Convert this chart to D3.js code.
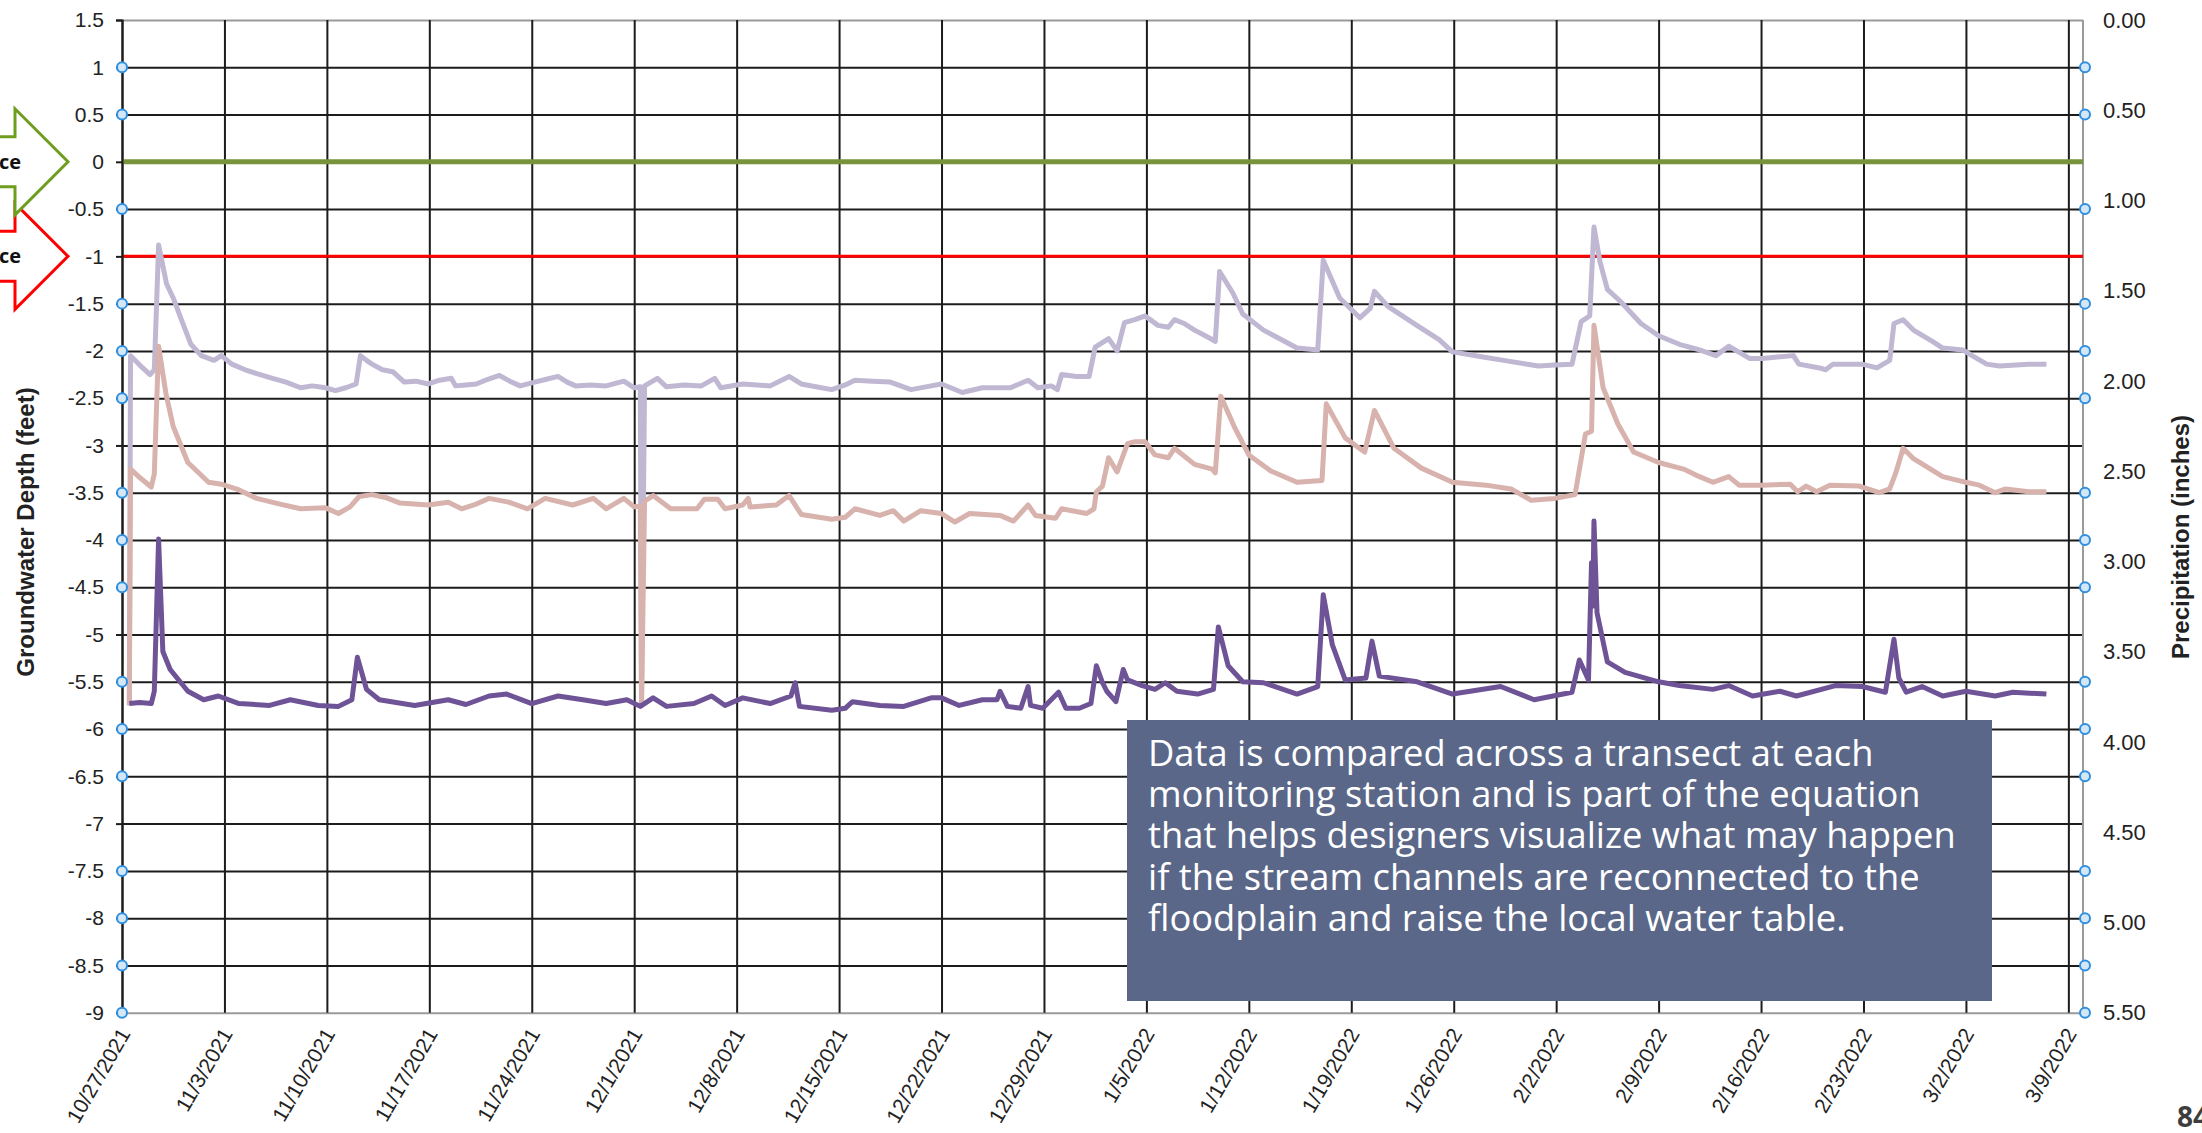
<!DOCTYPE html>
<html>
<head>
<meta charset="utf-8">
<script src="https://cdn.jsdelivr.net/npm/d3@7"></script>
<style>
  body { margin: 0; background: #fff; }
  svg { display: block; }
</style>
</head>
<body>
<svg id="chart" width="2202" height="1133"></svg>
<script>
// readings: [days after 10/27/2021, depth in feet]
const wellShallow = [[0.5,-5.73],[0.6,-2.05],[1.2,-2.15],[1.9,-2.25],[2.2,-2.2],[2.5,-0.88],[3.05,-1.29],[3.5,-1.44],[4.1,-1.68],[4.7,-1.93],[5.4,-2.05],[6.3,-2.1],[6.8,-2.05],[7.5,-2.14],[8.4,-2.2],[9.2,-2.24],[10.3,-2.29],[11.2,-2.33],[12.2,-2.39],[13.0,-2.37],[13.9,-2.39],[14.6,-2.42],[15.3,-2.39],[16,-2.35],[16.3,-2.05],[16.7,-2.1],[17.1,-2.14],[17.8,-2.2],[18.5,-2.22],[19.3,-2.33],[20.1,-2.32],[20.9,-2.35],[21.7,-2.31],[22.5,-2.29],[22.8,-2.37],[23.5,-2.36],[24.2,-2.35],[25.0,-2.3],[25.8,-2.26],[26.5,-2.32],[27.2,-2.37],[28.2,-2.33],[29.0,-2.3],[29.8,-2.27],[30.4,-2.33],[31,-2.37],[32,-2.36],[33.1,-2.37],[34.3,-2.32],[35,-2.39],[35.4,-2.38],[35.5,-5.73],[35.7,-2.37],[36.6,-2.29],[37.2,-2.38],[38.4,-2.36],[39.6,-2.37],[40.5,-2.29],[40.9,-2.39],[42.4,-2.35],[44.3,-2.37],[45.6,-2.27],[46.4,-2.35],[47.4,-2.38],[48.5,-2.41],[49.4,-2.36],[50.1,-2.31],[51.3,-2.32],[52.5,-2.33],[53.9,-2.41],[55.3,-2.37],[56,-2.35],[57.4,-2.44],[58.8,-2.39],[60.7,-2.39],[61.9,-2.31],[62.6,-2.39],[63.5,-2.37],[63.9,-2.41],[64.2,-2.25],[65.2,-2.27],[66.1,-2.27],[66.5,-1.96],[67.4,-1.87],[68,-2.0],[68.5,-1.7],[69.2,-1.67],[69.9,-1.63],[70.8,-1.73],[71.5,-1.75],[71.9,-1.67],[72.6,-1.71],[73.3,-1.78],[74.5,-1.88],[74.7,-1.9],[75,-1.16],[75.9,-1.39],[76.6,-1.61],[78,-1.78],[79.2,-1.88],[80.3,-1.97],[81.7,-1.99],[82.1,-1.04],[83.2,-1.44],[84.6,-1.65],[85.3,-1.55],[85.6,-1.37],[86.5,-1.53],[88.6,-1.74],[90,-1.88],[90.9,-2.01],[93.2,-2.07],[94.4,-2.1],[96.8,-2.16],[97.9,-2.15],[99.1,-2.14],[99.7,-1.69],[100.3,-1.63],[100.6,-0.69],[101,-1.06],[101.5,-1.35],[102.4,-1.48],[103.8,-1.71],[105,-1.84],[106.4,-1.93],[107.8,-1.99],[108.9,-2.05],[109.8,-1.95],[111.2,-2.08],[112.1,-2.08],[114.2,-2.05],[114.6,-2.14],[116,-2.18],[116.4,-2.2],[116.9,-2.14],[118.9,-2.14],[119.9,-2.18],[120.8,-2.1],[121.1,-1.71],[121.7,-1.67],[122.4,-1.78],[123.7,-1.9],[124.4,-1.97],[125.8,-1.99],[126.4,-2.05],[127.4,-2.14],[128.3,-2.16],[130.3,-2.14],[131.5,-2.14]];

const wellMiddle = [[0.5,-5.75],[0.6,-3.25],[1.3,-3.35],[2.0,-3.44],[2.2,-3.3],[2.5,-1.95],[3.0,-2.45],[3.5,-2.8],[4.5,-3.18],[5.9,-3.39],[6.8,-3.41],[8.0,-3.47],[9.2,-3.56],[10.8,-3.62],[12.2,-3.67],[13.9,-3.66],[14.8,-3.72],[15.6,-3.65],[16.2,-3.54],[17.1,-3.52],[18.0,-3.55],[19.0,-3.61],[20.9,-3.63],[22.3,-3.6],[23.2,-3.67],[24.2,-3.62],[25.1,-3.56],[26.4,-3.6],[27.7,-3.67],[28.9,-3.56],[30.8,-3.63],[32.2,-3.56],[33.1,-3.67],[34.3,-3.56],[35,-3.65],[35.4,-3.64],[35.5,-5.75],[35.7,-3.59],[36.3,-3.53],[37.5,-3.67],[39.3,-3.67],[39.8,-3.57],[40.7,-3.57],[41.2,-3.67],[42.4,-3.63],[42.8,-3.56],[42.9,-3.65],[44.7,-3.63],[45.6,-3.53],[46.4,-3.73],[48.5,-3.78],[49.4,-3.76],[50.1,-3.67],[51.8,-3.74],[52.7,-3.69],[53.4,-3.8],[54.6,-3.69],[56,-3.72],[56.9,-3.81],[57.9,-3.72],[60,-3.74],[60.9,-3.8],[61.9,-3.63],[62.4,-3.74],[63.8,-3.77],[64.2,-3.67],[65.9,-3.72],[66.4,-3.67],[66.6,-3.49],[67,-3.43],[67.4,-3.13],[68,-3.28],[68.7,-2.98],[69.2,-2.96],[69.9,-2.96],[70.6,-3.1],[71.5,-3.13],[71.9,-3.03],[73.3,-3.2],[74.5,-3.25],[74.7,-3.29],[75.1,-2.48],[76.0,-2.8],[77,-3.1],[78.5,-3.27],[80.3,-3.39],[82,-3.37],[82.3,-2.56],[83.6,-2.92],[84.3,-3.0],[84.9,-3.07],[85.6,-2.63],[86.9,-3.03],[88.8,-3.24],[90.9,-3.39],[93.2,-3.42],[94.9,-3.46],[96.3,-3.58],[97.9,-3.56],[99.3,-3.52],[100,-2.88],[100.4,-2.85],[100.6,-1.73],[101.2,-2.39],[102.2,-2.77],[103.3,-3.07],[105,-3.18],[106.7,-3.25],[107.8,-3.33],[108.7,-3.39],[109.8,-3.33],[110.5,-3.42],[112.1,-3.42],[114,-3.41],[114.5,-3.49],[115.1,-3.43],[115.8,-3.49],[116.7,-3.42],[118.7,-3.43],[120.1,-3.5],[120.8,-3.46],[121.2,-3.29],[121.7,-3.03],[122.4,-3.14],[124.4,-3.33],[126,-3.39],[126.9,-3.42],[128,-3.5],[128.7,-3.46],[130.3,-3.49],[131.5,-3.49]];

const wellDeep = [[0.5,-5.73],[1.2,-5.72],[2.0,-5.73],[2.2,-5.6],[2.5,-3.99],[2.8,-5.18],[3.3,-5.37],[4.5,-5.6],[5.6,-5.69],[6.6,-5.65],[8.0,-5.73],[10.1,-5.75],[11.5,-5.69],[13.4,-5.75],[14.8,-5.76],[15.7,-5.69],[16.1,-5.24],[16.7,-5.58],[17.6,-5.69],[20,-5.75],[22.3,-5.69],[23.5,-5.74],[25.1,-5.65],[26.3,-5.63],[28,-5.73],[29.8,-5.65],[31.5,-5.69],[33.1,-5.73],[34.5,-5.69],[35.4,-5.76],[36.3,-5.67],[37.2,-5.76],[39.1,-5.73],[40.3,-5.65],[41.2,-5.75],[42.4,-5.67],[44.3,-5.73],[45.7,-5.65],[46,-5.51],[46.3,-5.76],[48.5,-5.8],[49.4,-5.78],[49.9,-5.71],[51.8,-5.75],[53.4,-5.76],[55.3,-5.67],[56,-5.67],[57.2,-5.75],[58.8,-5.69],[59.8,-5.69],[60,-5.6],[60.5,-5.76],[61.4,-5.78],[61.9,-5.55],[62.1,-5.75],[62.9,-5.78],[64,-5.61],[64.5,-5.78],[65.4,-5.78],[66.2,-5.73],[66.6,-5.33],[67,-5.51],[67.3,-5.6],[67.9,-5.71],[68.4,-5.37],[68.7,-5.48],[69.7,-5.54],[70.6,-5.58],[71.3,-5.51],[72.1,-5.6],[73.5,-5.63],[74.6,-5.58],[74.9,-4.92],[75.6,-5.33],[76.6,-5.5],[78,-5.51],[80.3,-5.63],[81.7,-5.55],[82.1,-4.58],[82.7,-5.11],[83.6,-5.48],[85,-5.46],[85.4,-5.07],[85.9,-5.44],[88.5,-5.5],[90.9,-5.63],[94.2,-5.55],[96.5,-5.69],[99.1,-5.61],[99.6,-5.27],[100.2,-5.48],[100.4,-4.24],[100.5,-4.7],[100.6,-3.8],[100.8,-4.77],[101.5,-5.29],[102.7,-5.4],[105,-5.5],[106.4,-5.54],[108.7,-5.58],[109.8,-5.54],[111.4,-5.65],[113.3,-5.6],[114.4,-5.65],[117.1,-5.54],[118.9,-5.55],[120.5,-5.61],[121.1,-5.05],[121.4,-5.46],[121.9,-5.61],[123,-5.55],[124.4,-5.65],[126,-5.6],[128,-5.65],[129.2,-5.61],[131.5,-5.63]];

const groundSurface = 0;
const actionLevel = -1;

const weekLabels = ['10/27/2021','11/3/2021','11/10/2021','11/17/2021','11/24/2021','12/1/2021','12/8/2021','12/15/2021','12/22/2021','12/29/2021','1/5/2022','1/12/2022','1/19/2022','1/26/2022','2/2/2022','2/9/2022','2/16/2022','2/23/2022','3/2/2022','3/9/2022'];
const depthTicks = [1.5,1,0.5,0,-0.5,-1,-1.5,-2,-2.5,-3,-3.5,-4,-4.5,-5,-5.5,-6,-6.5,-7,-7.5,-8,-8.5,-9];
const precipTicks = [0,0.5,1,1.5,2,2.5,3,3.5,4,4.5,5,5.5];
// gridlines that carry the blue selection handles
const handleDepths = [1,0.5,-0.5,-1.5,-2,-2.5,-3.5,-4,-4.5,-5.5,-6,-6.5,-7.5,-8,-8.5,-9];

const noteLines = [
  'Data is compared across a transect at each',
  'monitoring station and is part of the equation',
  'that helps designers visualize what may happen',
  'if the stream channels are reconnected to the',
  'floodplain and raise the local water table.'
];

const svg = d3.select('#chart');
const plotL = 122, plotR = 2083, plotT = 20, plotB = 1012.7;
const start = new Date(2021, 9, 27);
const parseDay = d3.timeParse('%m/%d/%Y');

const x = d3.scaleTime().domain([start, new Date(2022, 2, 10)]).range([plotL, plotR]);
const y = d3.scaleLinear().domain([-9, 1.5]).range([plotB, plotT]);
const yPrecip = d3.scaleLinear().domain([0, 5.5]).range([plotT, plotB]);
const when = d => d3.timeHour.offset(start, Math.round(d * 24));

svg.append('rect').attr('width', 2202).attr('height', 1133).attr('fill', '#fff');

// horizontal gridlines
const yGrid = svg.append('g')
  .attr('transform', `translate(${plotL},0)`)
  .call(d3.axisLeft(y).tickValues(depthTicks).tickSize(-(plotR - plotL)).tickFormat(''));
yGrid.select('.domain').remove();
yGrid.selectAll('line')
  .attr('stroke', d => (d === 1.5 || d === -9) ? '#9a9a9a' : '#1c1c1c')
  .attr('stroke-width', 2);

// vertical gridlines, one per week
const xGrid = svg.append('g')
  .attr('transform', `translate(0,${plotB})`)
  .call(d3.axisBottom(x).tickValues(weekLabels.map(parseDay)).tickSize(-(plotB - plotT)).tickFormat(''));
xGrid.select('.domain').remove();
xGrid.selectAll('line').attr('stroke', '#1c1c1c').attr('stroke-width', 2);

// right frame
svg.append('line').attr('x1', plotR).attr('x2', plotR).attr('y1', plotT).attr('y2', plotB)
  .attr('stroke', '#9a9a9a').attr('stroke-width', 2);

// reference levels
svg.append('line').attr('x1', plotL).attr('x2', plotR).attr('y1', y(groundSurface)).attr('y2', y(groundSurface))
  .attr('stroke', '#77933c').attr('stroke-width', 5);
svg.append('line').attr('x1', plotL).attr('x2', plotR).attr('y1', y(actionLevel)).attr('y2', y(actionLevel))
  .attr('stroke', '#ff0000').attr('stroke-width', 3);

const line = d3.line().x(d => x(when(d[0]))).y(d => y(d[1]));
const series = [
  { data: wellShallow, colour: '#c0b7d3' },
  { data: wellMiddle, colour: '#d8b2ad' },
  { data: wellDeep, colour: '#6f5397' }
];
svg.selectAll('path.well').data(series).join('path')
  .attr('class', 'well')
  .attr('d', d => line(d.data))
  .attr('fill', 'none')
  .attr('stroke', d => d.colour)
  .attr('stroke-width', 5)
  .attr('stroke-linejoin', 'round');

// left axis with labels
const yAxis = svg.append('g')
  .attr('transform', `translate(${plotL},0)`)
  .call(d3.axisLeft(y).tickValues(depthTicks).tickSize(6).tickPadding(12).tickFormat(d3.format('')));
yAxis.select('.domain').attr('stroke', '#1c1c1c').attr('stroke-width', 2);
yAxis.selectAll('line').attr('stroke', '#1c1c1c').attr('stroke-width', 2);
yAxis.selectAll('text')
  .attr('font-family', 'Liberation Sans, Arial, sans-serif')
  .attr('font-size', 21).attr('fill', '#222')
  .text(d => String(d));

// right axis labels
const yRight = svg.append('g')
  .attr('transform', `translate(${plotR},0)`)
  .call(d3.axisRight(yPrecip).tickValues(precipTicks).tickSize(0).tickPadding(20).tickFormat(d3.format('.2f')));
yRight.select('.domain').remove();
yRight.selectAll('text')
  .attr('font-family', 'Liberation Sans, Arial, sans-serif')
  .attr('font-size', 22).attr('fill', '#222');

// date labels
svg.append('g').selectAll('text').data(weekLabels).join('text')
  .attr('transform', d => `translate(${x(parseDay(d)) + 9},${plotB + 21}) rotate(-60)`)
  .attr('text-anchor', 'end')
  .attr('font-family', 'Liberation Sans, Arial, sans-serif')
  .attr('font-size', 21).attr('fill', '#222')
  .text(d => d);

// selection handles on both ends
[plotL, plotR + 2].forEach(hx => {
  svg.append('g').selectAll('circle').data(handleDepths).join('circle')
    .attr('cx', hx).attr('cy', d => y(d)).attr('r', 5)
    .attr('fill', '#d4e7f7').attr('stroke', '#2f8fe0').attr('stroke-width', 2);
});

// axis titles
svg.append('text')
  .attr('transform', `translate(34,532) rotate(-90)`)
  .attr('text-anchor', 'middle')
  .attr('font-family', 'Liberation Sans, Arial, sans-serif')
  .attr('font-weight', 'bold').attr('font-size', 24).attr('fill', '#222')
  .text('Groundwater Depth (feet)');
svg.append('text')
  .attr('transform', `translate(2189,537) rotate(-90)`)
  .attr('text-anchor', 'middle')
  .attr('font-family', 'Liberation Sans, Arial, sans-serif')
  .attr('font-weight', 'bold').attr('font-size', 24).attr('fill', '#222')
  .text('Precipitation (inches)');

// callout arrows at left edge
const arrow = (cy, colour) => {
  const shaft = 25, head = 53, tip = 68, neck = 15;
  const pts = [[-20, cy - shaft], [neck, cy - shaft], [neck, cy - head], [tip, cy], [neck, cy + head], [neck, cy + shaft], [-20, cy + shaft]];
  svg.append('polygon')
    .attr('points', pts.map(p => p.join(',')).join(' '))
    .attr('fill', '#fff').attr('stroke', colour).attr('stroke-width', 3);
  svg.append('text')
    .attr('x', 21).attr('y', cy + 7)
    .attr('text-anchor', 'end')
    .attr('font-family', 'Open Sans, sans-serif')
    .attr('font-weight', 'bold').attr('font-size', 20).attr('fill', '#111')
    .text('ce');
};
arrow(y(actionLevel), '#ff0000');
arrow(y(groundSurface), '#6f9e1e');

// note box, text sized so the longest line fills it like the original
const boxX = 1127, boxY = 720, boxW = 865, boxH = 281;
svg.append('rect').attr('x', boxX).attr('y', boxY).attr('width', boxW).attr('height', boxH).attr('fill', '#5a6788');
const note = svg.append('g').selectAll('text').data(noteLines).join('text')
  .attr('x', boxX + 21)
  .attr('y', (d, i) => boxY + 46 + i * 41.2)
  .attr('font-family', 'Open Sans, sans-serif')
  .attr('font-size', 30).attr('fill', '#fff')
  .text(d => d);
const widest = d3.max(note.nodes(), n => n.getComputedTextLength());
note.attr('font-size', 30 * 808 / widest);

// page number
svg.append('text')
  .attr('x', 2177).attr('y', 1127)
  .attr('font-family', 'Open Sans, sans-serif')
  .attr('font-weight', 'bold').attr('font-size', 28).attr('fill', '#3d3d3d')
  .text('84');
</script>
</body>
</html>
